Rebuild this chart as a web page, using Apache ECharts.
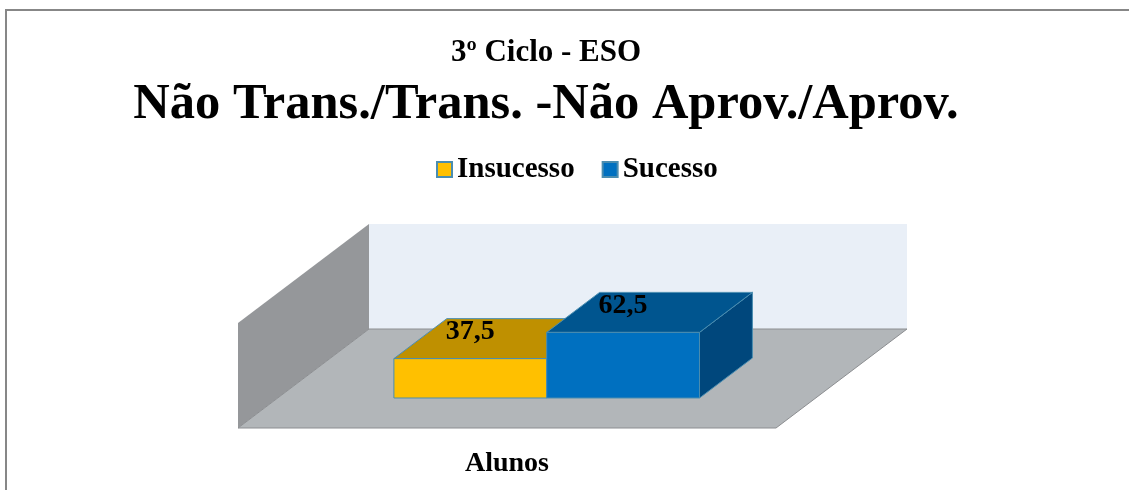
<!DOCTYPE html>
<html>
<head>
<meta charset="utf-8">
<script src="https://cdn.jsdelivr.net/npm/echarts@6/dist/echarts.min.js"></script>
<style>
html, body { margin: 0; background: #fff; }
#chart { width: 1129px; height: 490px; }
</style>
</head>
<body>
<div id="chart"></div>
<script>
var categories = ['Alunos'];
var seriesNames = ['Insucesso', 'Sucesso'];
var insucesso = [37.5];
var sucesso = [62.5];
var valueMax = 100;

var FONT = '"Liberation Serif", "Times New Roman", serif';
// oblique depth of the 3d box (floor front edge -> back wall)
var DX = 131, DY = -99;
var BAR_FRONT = 0.303, BAR_BACK = 0.707, BAR_FRAC = 0.284;
var EDGE = '#4a8db0';

var chart = echarts.init(document.getElementById('chart'));

function renderWalls(params, api) {
    var base = api.coord([0, 0]);
    var top = api.coord([0, valueMax]);
    var band = api.size([1, 0])[0];
    var l = base[0] - band / 2, r = base[0] + band / 2;
    var y0 = base[1], y1 = top[1];
    return {
        type: 'group',
        silent: true,
        children: [
            { type: 'rect', shape: { x: l + DX, y: y1 + DY, width: r - l, height: y0 - y1 },
              style: { fill: '#e9eff7' } },
            { type: 'polygon', shape: { points: [[l, y0], [l, y1], [l + DX, y1 + DY], [l + DX, y0 + DY]] },
              style: { fill: '#95979a' } },
            { type: 'polygon', shape: { points: [[l, y0], [r, y0], [r + DX, y0 + DY], [l + DX, y0 + DY]] },
              style: { fill: '#b2b6b9', stroke: '#8c8e91', lineWidth: 1 } }
        ]
    };
}

function makeBar(idx, front, topColor, side) {
    return function (params, api) {
        var cat = api.value(0), val = api.value(1);
        var base = api.coord([cat, 0]);
        var tp = api.coord([cat, val]);
        var band = api.size([1, 0])[0];
        var w = band * BAR_FRAC;
        var x0 = base[0] + (idx - 1) * w + BAR_FRONT * DX;
        var x1 = x0 + w;
        var yb = base[1] + BAR_FRONT * DY;
        var yt = tp[1] + BAR_FRONT * DY;
        var dx = (BAR_BACK - BAR_FRONT) * DX, dy = (BAR_BACK - BAR_FRONT) * DY;
        var st = { stroke: EDGE, lineWidth: 1 };
        return {
            type: 'group',
            children: [
                { type: 'polygon', shape: { points: [[x1, yb], [x1, yt], [x1 + dx, yt + dy], [x1 + dx, yb + dy]] },
                  style: Object.assign({ fill: side }, st) },
                { type: 'polygon', shape: { points: [[x0, yt], [x1, yt], [x1 + dx, yt + dy], [x0 + dx, yt + dy]] },
                  style: Object.assign({ fill: topColor }, st) },
                { type: 'rect', shape: { x: x0, y: yt, width: w, height: yb - yt },
                  style: Object.assign({ fill: front }, st) },
                { type: 'text', z2: 100,
                  style: { text: String(val).replace('.', ','), x: (x0 + x1) / 2, y: yt - 27,
                           align: 'center', verticalAlign: 'middle', fill: '#000',
                           fontSize: 28, fontWeight: 'bold', fontFamily: FONT } }
            ]
        };
    };
}

option = {
    backgroundColor: '#fff',
    animation: false,
    graphic: [{
        type: 'rect', silent: true,
        shape: { x: 6, y: 10, width: 1300, height: 700 },
        style: { fill: 'none', stroke: '#878787', lineWidth: 2 }
    }],
    title: [
        { text: '3º Ciclo - ESO', left: 546, top: 37, padding: 0, textAlign: 'center',
          textStyle: { fontFamily: FONT, fontWeight: 'bold', fontSize: 31, color: '#000' } },
        { text: 'Não Trans./Trans. -Não Aprov./Aprov.', left: 546, top: 79, padding: 0, textAlign: 'center',
          textStyle: { fontFamily: FONT, fontWeight: 'bold', fontSize: 50.5, color: '#000' } }
    ],
    legend: {
        data: seriesNames,
        left: 436,
        top: 155,
        padding: 0,
        itemWidth: 15,
        itemHeight: 15,
        itemGap: 27,
        icon: 'rect',
        textStyle: { fontFamily: FONT, fontWeight: 'bold', fontSize: 29, color: '#000' }
    },
    grid: { left: 238, top: 323, width: 538, height: 105 },
    xAxis: {
        type: 'category',
        data: categories,
        axisLine: { show: false },
        axisTick: { show: false },
        axisLabel: { margin: 22, fontFamily: FONT, fontWeight: 'bold', fontSize: 28, color: '#000' }
    },
    yAxis: { type: 'value', min: 0, max: valueMax, show: false },
    series: [
        {
            name: 'walls', type: 'custom', silent: true,
            renderItem: renderWalls,
            data: [[0, 0]]
        },
        {
            name: seriesNames[0], type: 'custom',
            itemStyle: { color: '#ffc000', borderColor: EDGE, borderWidth: 2 },
            renderItem: makeBar(0, '#ffc000', '#bf9000', '#bf9000'),
            data: categories.map(function (c, i) { return [i, insucesso[i]]; })
        },
        {
            name: seriesNames[1], type: 'custom',
            itemStyle: { color: '#0070c0', borderColor: EDGE, borderWidth: 1 },
            renderItem: makeBar(1, '#0070c0', '#00558f', '#00477c'),
            data: categories.map(function (c, i) { return [i, sucesso[i]]; })
        }
    ]
};
chart.setOption(option);
</script>
</body>
</html>
